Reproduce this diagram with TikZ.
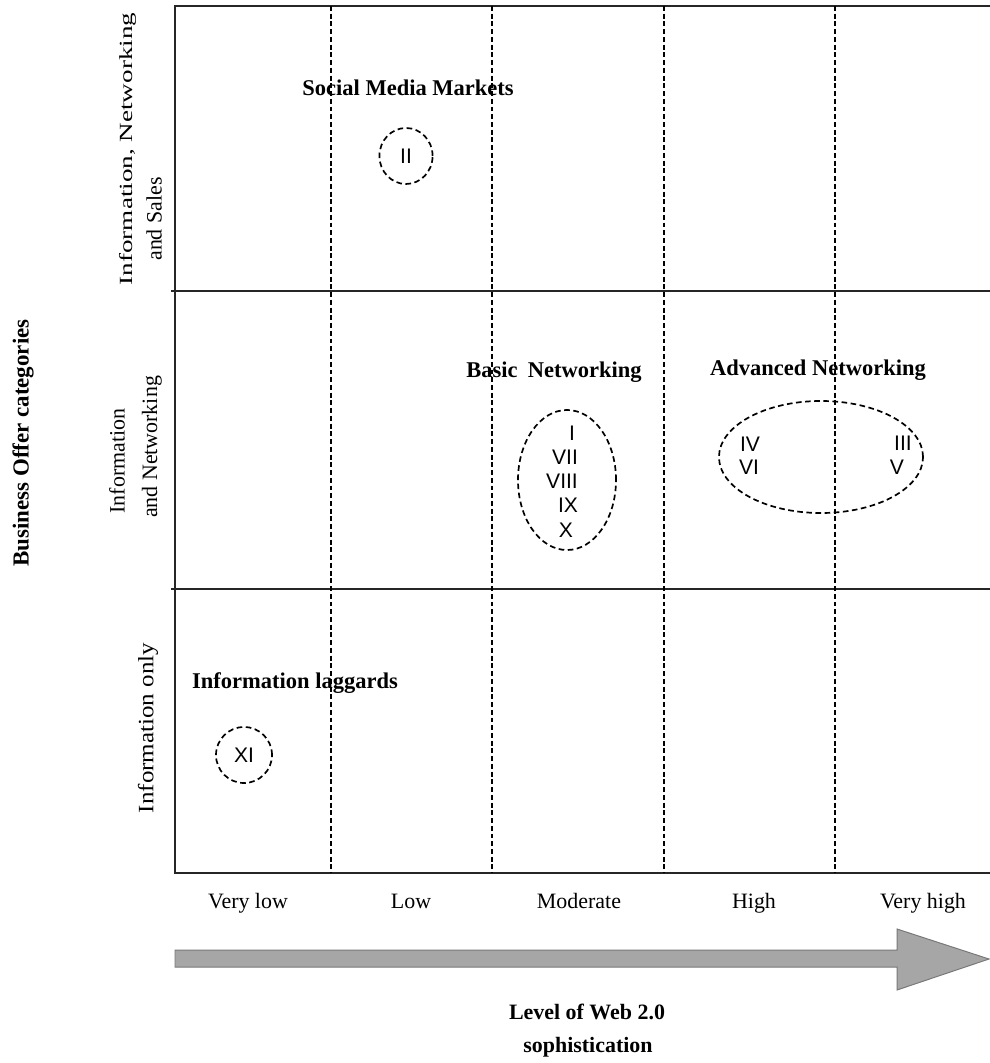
\documentclass[tikz,border=0pt]{standalone}
\usepackage{fontspec}
\setmainfont{Liberation Serif}
\newfontfamily\numfont{Liberation Sans}
\usetikzlibrary{shapes}
\definecolor{arrowgray}{RGB}{166,166,166}
\definecolor{edgegray}{RGB}{120,120,120}

\begin{document}
\begin{tikzpicture}[x=0.025cm, y=-0.025cm,
    frame/.style={line width=1.7pt, draw=black!85},
    sep/.style={line width=1.2pt, dash pattern=on 3.5pt off 2pt},
    grp/.style={ellipse, draw, line width=1.2pt, dash pattern=on 4pt off 2.5pt, inner sep=0pt},
    tag/.style={font=\fontsize{16}{19}\selectfont\bfseries},
    num/.style={font=\numfont\fontsize{15}{18}\selectfont, inner sep=0pt},
    axislbl/.style={font=\fontsize{15.6}{19}\selectfont},
    rowlbl/.style={rotate=90, font=\fontsize{15.6}{19}\selectfont, inner sep=0pt}]
    \useasboundingbox (0,0) rectangle (990,1063);
    % grid of the matrix
    \draw[frame] (990,6) -- (175,6) -- (175,873) -- (990,873);
    \draw[frame] (171,291) -- (990,291);
    \draw[frame] (171,589) -- (990,589);
    \foreach \xx in {331,492,664,835}
        \draw[sep] (\xx,6) -- (\xx,873);
    % row labels
    \node[rowlbl, font=\fontsize{16.3}{19}\selectfont\bfseries] (offer) at (23,443) {Business Offer categories};
    \node[rowlbl, font=\fontsize{13.2}{16}\selectfont] (rowsales) at (128,149) {\scalebox{1.46}[1]{Information, Networking}};
    \node[rowlbl] (rowsales2) at (154,219) {and Sales};
    \node[rowlbl] (rownet) at (117,461) {Information};
    \node[rowlbl] (rownet2) at (152,447) {and Networking};
    \node[rowlbl] (rowinfo) at (148,728) {\scalebox{1.14}[1]{Information only}};
    % column labels
    \node[axislbl] (vlow) at (248,903) {Very low};
    \node[axislbl] (low) at (411,901) {Low};
    \node[axislbl] (moderate) at (579,901) {Moderate};
    \node[axislbl] (high) at (754,903) {High};
    \node[axislbl] (vhigh) at (923,903) {Very high};
    % sophistication arrow
    \draw[fill=arrowgray, draw=edgegray, line width=0.7pt]
        (175,950) -- (897,950) -- (897,929) -- (989,959) -- (897,990) -- (897,967) -- (175,967) -- cycle;
    \node[tag, font=\fontsize{15.6}{19}\selectfont\bfseries] (level) at (587,1012) {Level of Web 2.0};
    \node[tag, font=\fontsize{15.6}{19}\selectfont\bfseries] (soph) at (588,1047) {sophistication};
    % clusters
    \node[tag] (smm) at (408,88) {Social Media Markets};
    \node[grp, minimum width=1.33cm, minimum height=1.4cm] (smmset) at (406,156) {};
    \node[num] (nII) at (smmset) {II};
    \node[tag] (basic) at (554,372) {Basic\hspace{0.45em}Networking};
    \node[grp, minimum width=2.45cm, minimum height=3.5cm] (basicset) at (567,480) {};
    \foreach \t/\xx/\yy in {I/572/433, VII/565/457, VIII/562/481, IX/568/505, X/566/530}
        \node[num] (n\t) at (\xx,\yy) {\t};
    \node[tag] (adv) at (818,370) {Advanced Networking};
    \node[grp, minimum width=5.1cm, minimum height=2.8cm] (advset) at (821,457) {};
    \foreach \t/\xx/\yy in {IV/750/444, VI/749/467, III/903/443, V/897/467}
        \node[num] (n\t) at (\xx,\yy) {\t};
    \node[tag] (lag) at (295,683) {Information laggards};
    \node[grp, minimum width=1.4cm, minimum height=1.4cm] (lagset) at (244,755) {};
    \node[num] (nXI) at (lagset) {XI};
\end{tikzpicture}
\end{document}
